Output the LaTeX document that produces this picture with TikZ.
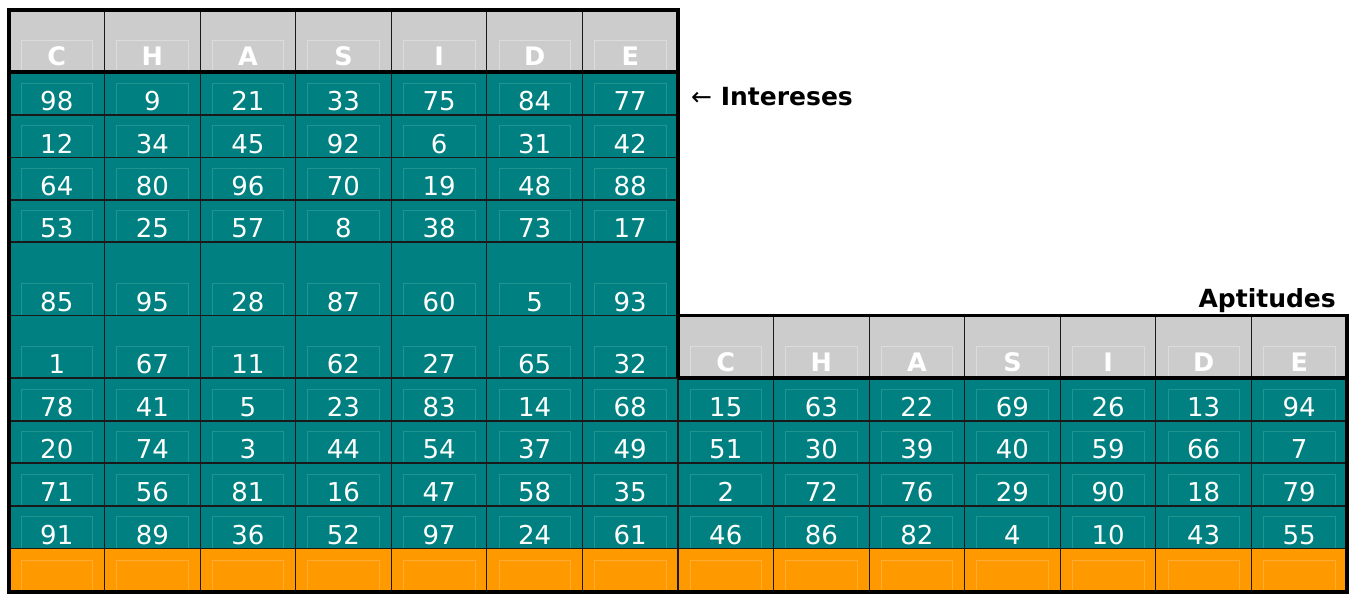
\documentclass[tikz,border=0pt]{standalone}
\usepackage{fontspec}
\setmainfont{DejaVu Sans}
\definecolor{tealc}{RGB}{0,128,128}
\definecolor{tealcin}{RGB}{32,148,145}
\definecolor{hdr}{RGB}{204,204,204}
\definecolor{hdrin}{RGB}{220,220,220}
\definecolor{orng}{RGB}{255,153,0}
\definecolor{orngin}{RGB}{255,172,55}
\newcommand\mkrow[6]{% name, top, bottom, first column, fill, list
  \foreach \v [count=\i from 0] in {#6} {
    \pgfmathsetmacro\xa{9+95.57*(#4+\i)}
    \pgfmathsetmacro\xb{\xa+95.57}
    \pgfmathsetmacro\xm{\xa+95.57/2}
    \fill[#5] (\xa,#2) rectangle (\xb,#3);
    \draw[#5in, line width=0.7pt] (\xa+12,#3-32) rectangle (\xb-12,#3);
    \node[numtxt] (n-#1-\i) at (\xm,#3-4.5) {\v};
  }}
\begin{document}
\begin{tikzpicture}[x=1pt,y=-1pt,
  numtxt/.style={text=white, font=\fontsize{26}{26}\selectfont, inner sep=0pt, anchor=base},
  hdrtxt/.style={text=white, font=\fontsize{25.5}{25.5}\selectfont\bfseries, inner sep=0pt, anchor=base},
  gridline/.style={draw=black!90, line width=1.2pt},
  outline/.style={draw=black, line width=3.5pt, line join=miter},
  lbl/.style={font=\fontsize{25}{25}\selectfont\bfseries, inner sep=0pt, text=black},
]
\fill[white] (0,0) rectangle (1360,600);
\useasboundingbox (0,0) rectangle (1360,600);
% header rows
\foreach \yt/\yb/\c/\nm in {10/72/0/L, 315.5/378/7/R} {
  \foreach \L [count=\i from 0] in {C,H,A,S,I,D,E} {
    \pgfmathsetmacro\xa{9+95.57*(\c+\i)}
    \pgfmathsetmacro\xb{\xa+95.57}
    \pgfmathsetmacro\xm{\xa+95.57/2}
    \fill[hdr] (\xa,\yt) rectangle (\xb,\yb);
    \draw[hdrin, line width=0.7pt] (\xa+12,\yb-32) rectangle (\xb-12,\yb);
    \node[hdrtxt] (h-\nm-\i) at (\xm,\yb-6.5) {\L};
  }
}
% left table
\mkrow{a1}{72}{115}{0}{tealc}{98,9,21,33,75,84,77}
\mkrow{a2}{115}{157.5}{0}{tealc}{12,34,45,92,6,31,42}
\mkrow{a3}{157.5}{200}{0}{tealc}{64,80,96,70,19,48,88}
\mkrow{a4}{200}{242}{0}{tealc}{53,25,57,8,38,73,17}
\mkrow{a5}{242}{315.5}{0}{tealc}{85,95,28,87,60,5,93}
\mkrow{a6}{315.5}{378}{0}{tealc}{1,67,11,62,27,65,32}
\mkrow{a7}{378}{421}{0}{tealc}{78,41,5,23,83,14,68}
\mkrow{a8}{421}{463}{0}{tealc}{20,74,3,44,54,37,49}
\mkrow{a9}{463}{506}{0}{tealc}{71,56,81,16,47,58,35}
\mkrow{a10}{506}{548.5}{0}{tealc}{91,89,36,52,97,24,61}
\mkrow{a11}{548.5}{592}{0}{orng}{{},{},{},{},{},{},{}}
% right table
\mkrow{b7}{378}{421}{7}{tealc}{15,63,22,69,26,13,94}
\mkrow{b8}{421}{463}{7}{tealc}{51,30,39,40,59,66,7}
\mkrow{b9}{463}{506}{7}{tealc}{2,72,76,29,90,18,79}
\mkrow{b10}{506}{548.5}{7}{tealc}{46,86,82,4,10,43,55}
\mkrow{b11}{548.5}{592}{7}{orng}{{},{},{},{},{},{},{}}
% thin grid
\foreach \y in {115,157.5,200,242,315.5,378,421,463,506,548.5}
  \draw[gridline] (9,\y) -- (678,\y);
\foreach \y in {421,463,506,548.5}
  \draw[gridline] (678,\y) -- (1347,\y);
\foreach \i in {1,...,6}
  \draw[gridline] ({9+95.57*\i},10) -- ({9+95.57*\i},592);
\foreach \i in {7,...,13}
  \draw[gridline] ({9+95.57*\i},315.5) -- ({9+95.57*\i},592);
% thick outline
\draw[outline] (9,10) -- (678,10) -- (678,315.5) -- (1347,315.5) -- (1347,592) -- (9,592) -- cycle;
\draw[outline] (9,72) -- (678,72);
\draw[outline] (678,378) -- (1347,378);
\draw[outline] (678,315.5) -- (678,378);
% labels
\node[lbl, anchor=base west] (int) at (691,105) {{\mdseries ←} Intereses};
\node[lbl, anchor=base east] (apt) at (1336,307) {Aptitudes};
\end{tikzpicture}
\end{document}
